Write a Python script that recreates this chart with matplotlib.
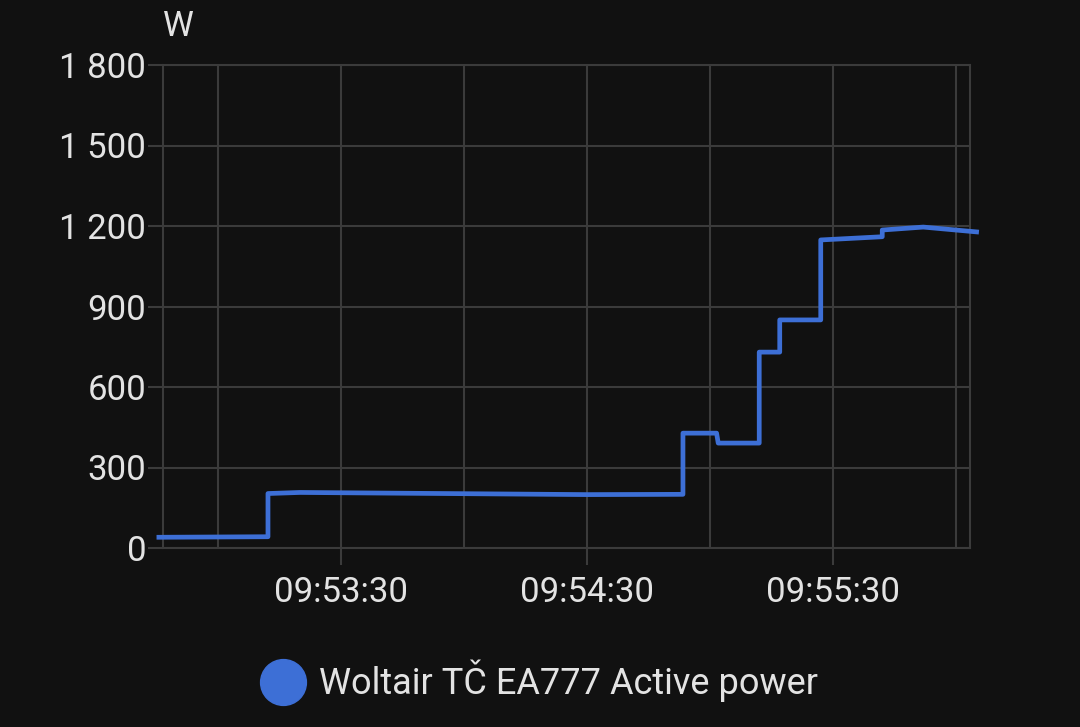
"""
Woltair heat pump active power, step chart on dark background
"""
from datetime import datetime
import matplotlib
matplotlib.use('Agg')
import matplotlib.pyplot as plt
import matplotlib.dates as mdates
from matplotlib.lines import Line2D
from matplotlib.ticker import FuncFormatter

# samples (time, watts); repeated times make the vertical steps
times = [
    '09:52:45.6', '09:53:12.2', '09:53:12.2', '09:53:20', '09:54:30',
    '09:54:53.4', '09:54:53.4', '09:55:01.6', '09:55:02', '09:55:12',
    '09:55:12', '09:55:17', '09:55:17', '09:55:27', '09:55:27',
    '09:55:42', '09:55:42', '09:55:52', '09:56:05',
]
watts = [
    40, 42, 203, 207, 199,
    200, 428, 428, 391, 391,
    730, 730, 850, 850, 1148,
    1160, 1185, 1196, 1178,
]
series_name = 'Woltair TČ EA777 Active power'
unit = 'W'
y_ticks = [0, 300, 600, 900, 1200, 1500, 1800]
x_start, x_end = '09:52:46.6', '09:56:03.4'

BG = '#111111'
GRID = '#3b3b3b'
TEXT = '#e3e3e3'
LINE = '#3d6fd6'


def to_dt(s):
    return datetime.strptime('2024-01-01 ' + s, '%Y-%m-%d %H:%M:%S' + ('.%f' if '.' in s else ''))


plt.rcParams['font.family'] = ['Roboto', 'DejaVu Sans']

fig = plt.figure(figsize=(10.8, 7.27), dpi=100, facecolor=BG)
ax = fig.add_axes([163 / 1080, 1 - 548 / 727, (970 - 163) / 1080, (548 - 65) / 727])
ax.set_facecolor(BG)

ax.plot([to_dt(t) for t in times], watts, color=LINE, linewidth=3.4,
        solid_joinstyle='round', clip_on=False, zorder=3)

ax.set_xlim(to_dt(x_start), to_dt(x_end))
ax.set_ylim(y_ticks[0], y_ticks[-1])

ax.xaxis.set_major_locator(mdates.SecondLocator(bysecond=[30]))
ax.xaxis.set_minor_locator(mdates.SecondLocator(bysecond=[0]))
ax.xaxis.set_major_formatter(mdates.DateFormatter('%H:%M:%S'))
ax.set_yticks(y_ticks)
ax.yaxis.set_major_formatter(FuncFormatter(lambda v, p: f'{int(v):,}'.replace(',', ' ')))

ax.grid(True, which='both', color=GRID, linewidth=1.5)
ax.set_axisbelow(True)
ax.tick_params(axis='both', which='major', colors=GRID, labelcolor=TEXT,
               labelsize=25, width=1.5)
ax.tick_params(axis='x', which='major', length=12, pad=8)
ax.tick_params(axis='y', which='major', length=11, pad=1)
ax.tick_params(axis='x', which='minor', length=0)
for spine in ax.spines.values():
    spine.set_color(GRID)
    spine.set_linewidth(1.5)

fig.text(178 / 1080, 1 - 26 / 727, unit, color=TEXT, fontsize=25,
         ha='center', va='center')

handle = Line2D([], [], linestyle='none', marker='o', markersize=33,
                markerfacecolor=LINE, markeredgecolor=LINE)
fig.legend([handle], [series_name], loc='center', bbox_to_anchor=(0.5, 1 - 681 / 727),
           frameon=False, fontsize=26, labelcolor=TEXT, handletextpad=0.4,
           handlelength=1.2)

fig.savefig('out.png', dpi=100, facecolor=BG)
